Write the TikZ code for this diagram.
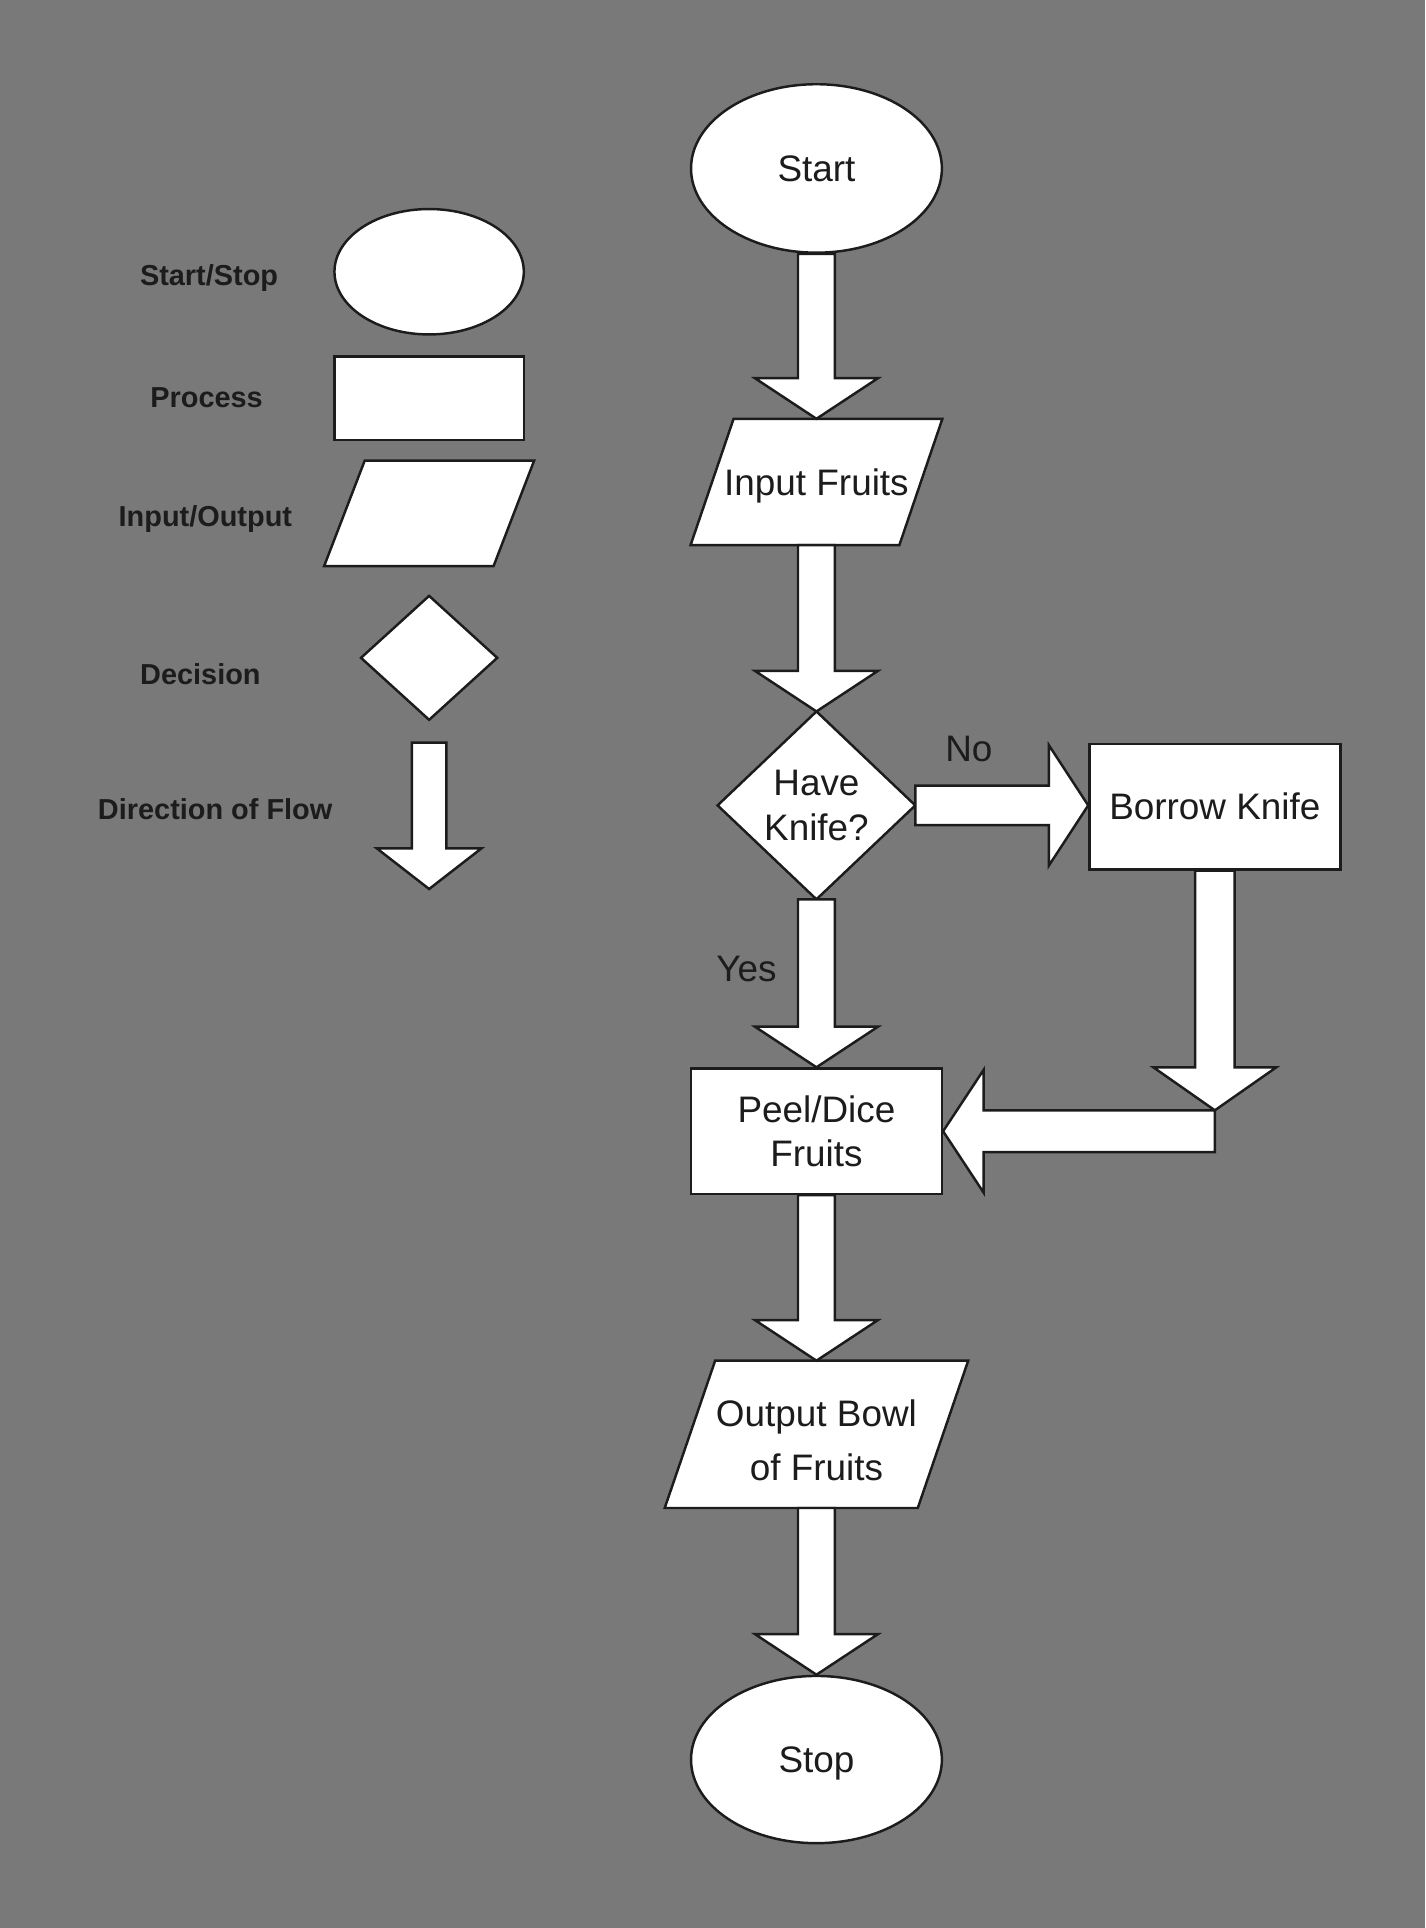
\documentclass[tikz,border=0pt]{standalone}
\usepackage{fontspec}
\setmainfont{Liberation Sans}
\usetikzlibrary{shapes.geometric,calc}
\pgfdeclarelayer{bg}
\pgfdeclarelayer{shp}
\pgfsetlayers{bg,shp,main}
\definecolor{bggray}{RGB}{121,121,121}
\definecolor{ink}{RGB}{28,28,28}
% vertical block arrow: from, to, shaft half width, head half width, head length
\newcommand\vblk[5]{\draw[blk] let \p1=(#1), \p2=(#2) in
  (\x1-#3,\y1) -- (\x1-#3,\y2+#5) -- (\x1-#4,\y2+#5) -- (\x1,\y2) --
  (\x1+#4,\y2+#5) -- (\x1+#3,\y2+#5) -- (\x1+#3,\y1) -- cycle;}
% rightward block arrow
\newcommand\rblk[5]{\draw[blk] let \p1=(#1), \p2=(#2) in
  (\x1,\y1+#3) -- (\x2-#5,\y1+#3) -- (\x2-#5,\y1+#4) -- (\x2,\y1) --
  (\x2-#5,\y1-#4) -- (\x2-#5,\y1-#3) -- (\x1,\y1-#3) -- cycle;}
% leftward block arrow
\newcommand\lblk[5]{\draw[blk] let \p1=(#1), \p2=(#2) in
  (\x1,\y1+#3) -- (\x2+#5,\y1+#3) -- (\x2+#5,\y1+#4) -- (\x2,\y1) --
  (\x2+#5,\y1-#4) -- (\x2+#5,\y1-#3) -- (\x1,\y1-#3) -- cycle;}
\begin{document}
\begin{tikzpicture}[x=0.5pt,y=-0.5pt,
  every node/.style={text=ink,font=\fontsize{15pt}{18pt}\selectfont,text depth=0pt},
  legtext/.style={font=\fontsize{11.75pt}{14pt}\selectfont\bfseries},
  shapeline/.style={draw=ink,line width=1pt,fill=white,line join=miter},
  term/.style={shapeline,ellipse,inner sep=0pt},
  proc/.style={shapeline,rectangle,inner sep=0pt,align=center},
  box/.style={rectangle,inner sep=0pt,align=center},
  blk/.style={shapeline}]
\useasboundingbox (0,0) rectangle (1159,1568);
\begin{pgfonlayer}{bg}
  \fill[bggray] (0,0) rectangle (1159,1568);
\end{pgfonlayer}

% ---------- legend ----------
\node[legtext] (t1) at (170,224) {Start/Stop};
\node[legtext] (t2) at (168,323) {Process};
\node[legtext] (t3) at (167,420) {Input/Output};
\node[legtext] (t4) at (163,548) {Decision};
\node[legtext] (t5) at (175,658) {Direction of Flow};

\node[term,minimum width=77pt,minimum height=51pt] (lterm) at (349,221) {};
\node[proc,minimum width=77pt,minimum height=34pt] (lproc) at (349,324) {};
\node[box,minimum width=85pt,minimum height=42.5pt] (lio) at (349,417.5) {};
\node[box,minimum width=55pt,minimum height=50pt] (ldec) at (349,535) {};
\coordinate (lflowa) at (349,604);
\coordinate (lflowb) at (349,723);

% ---------- main flow ----------
\node[term,minimum width=102pt,minimum height=68.5pt] (start) at (664,137) {Start};
\node[box,minimum width=102pt,minimum height=51pt] (inp) at (664,392) {Input Fruits};
\node[box,minimum width=80pt,minimum height=76pt] (dec) at (664,655) {Have\\Knife?};
\node[proc,minimum width=102pt,minimum height=51pt] (bor) at (988,656) {Borrow Knife};
\node[proc,minimum width=102pt,minimum height=51pt] (peel) at (664,920) {Peel/Dice\\Fruits};
\node[box,minimum width=123pt,minimum height=59.5pt] (out) at (664,1166.5) {};
\node[box] (outtxt) at ($(out)+(0,-2.5pt)$) {Output Bowl\\[4pt]of Fruits};
\node[term,minimum width=102pt,minimum height=68pt] (stop) at (664,1431) {Stop};

\node (no) at (788,609) {No};
\node (yes) at (607,788) {Yes};

% shapes drawn behind their text
\begin{pgfonlayer}{shp}
  \draw[shapeline] (lio.south west) -- ($(lio.north west)+(16.5pt,0)$) -- (lio.north east)
     -- ($(lio.south east)+(-16.5pt,0)$) -- cycle;
  \draw[shapeline] (ldec.north) -- (ldec.east) -- (ldec.south) -- (ldec.west) -- cycle;
  \draw[shapeline] (inp.south west) -- ($(inp.north west)+(17.5pt,0)$) -- (inp.north east)
     -- ($(inp.south east)+(-17.5pt,0)$) -- cycle;
  \draw[shapeline] (dec.north) -- (dec.east) -- (dec.south) -- (dec.west) -- cycle;
  \draw[shapeline] (out.south west) -- ($(out.north west)+(20.5pt,0)$) -- (out.north east)
     -- ($(out.south east)+(-20.5pt,0)$) -- cycle;
\end{pgfonlayer}

% ---------- block arrows ----------
\vblk{lflowa}{lflowb}{7pt}{21.25pt}{16.5pt}
\vblk{start.south}{inp.north}{7.5pt}{25pt}{16.5pt}
\vblk{inp.south}{dec.north}{7.5pt}{25pt}{16.5pt}
\vblk{dec.south}{peel.north}{7.5pt}{25pt}{16.5pt}
\vblk{peel.south}{out.north}{7.5pt}{25pt}{16.5pt}
\vblk{out.south}{stop.north}{7.5pt}{25pt}{16.5pt}
\rblk{dec.east}{bor.west}{8pt}{24.5pt}{16pt}
\coordinate (j) at (bor.south |- peel.east);
\coordinate (jt) at ($(j)+(0,8.5pt)$);
\lblk{j}{peel.east}{8.5pt}{25pt}{16.5pt}
\vblk{bor.south}{jt}{8pt}{25pt}{17.5pt}
\end{tikzpicture}
\end{document}
